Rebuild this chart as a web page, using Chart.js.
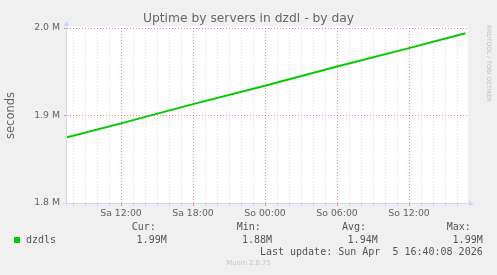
<!DOCTYPE html>
<html>
<head>
<meta charset="utf-8">
<script src="https://cdn.jsdelivr.net/npm/chart.js@4/dist/chart.umd.min.js"></script>
<style>
  html, body { margin:0; padding:0; background:#F0F0F0; }
  #wrap { position:relative; width:497px; height:275px; overflow:hidden; background:#F0F0F0; }
  canvas { position:absolute; left:0; top:0; }
  .t { position:absolute; white-space:pre; color:#666; }
  .sans { font-family:"DejaVu Sans", sans-serif; }
  .mono { font-family:"DejaVu Sans Mono", monospace; font-size:10px; line-height:12px; color:#555; }
</style>
</head>
<body>
<div id="wrap">
  <canvas id="c" width="497" height="275"></canvas>
  <div class="t sans" id="title" style="left:0;width:497px;text-align:center;top:11px;font-size:12.3px;line-height:15px;"></div>
  <div class="t sans" id="rrd" style="left:483px;top:25px;font-size:6px;line-height:8px;color:#bdbdbd;transform-origin:0 0;transform:translate(10px,0) rotate(90deg);"></div>
  <div id="legend"></div>
  <div class="t sans" id="munin" style="left:0;width:497px;text-align:center;top:259px;font-size:6.8px;line-height:9px;color:#c4c4c4;"></div>
</div>
<script>
// ---- data ----
const chartTitle = 'Uptime by servers in dzdl - by day';
const yAxisTitle = 'seconds';
const seriesName = 'dzdls';
const seriesColor = '#00CC00';
// hours since Saturday 00:00
const hours   = [7.5,   12,    18,    24,    30,    36,    40.7];
const uptimeM = [1.875, 1.891, 1.913, 1.934, 1.956, 1.977, 1.994];
const xRange = [7.5, 40.83];
const xMajorHours = [12, 18, 24, 30, 36];
const xMajorLabels = ['Sa 12:00', 'Sa 18:00', 'So 00:00', 'So 06:00', 'So 12:00'];
const yTickValues = [1.8, 1.9, 2.0];
const yTickLabels = ['1.8 M', '1.9 M', '2.0 M'];
const legendHeads = ['Cur:', 'Min:', 'Avg:', 'Max:'];
const legendValues = ['1.99M', '1.88M', '1.94M', '1.99M'];
const lastUpdate = 'Last update: Sun Apr  5 16:40:08 2026';
const watermark = 'Munin 2.0.75';
const sideText = 'RRDTOOL / TOBI OETIKER';

// ---- text overlays ----
document.getElementById('title').textContent = chartTitle;
document.getElementById('rrd').textContent = sideText;
document.getElementById('munin').textContent = watermark;
const leg = document.getElementById('legend');
function addText(txt, style) {
  const d = document.createElement('div');
  d.className = 't mono';
  d.textContent = txt;
  Object.assign(d.style, style);
  leg.appendChild(d);
  return d;
}
const headLeft = [131.7, 236.7, 342, 446.7];
const valRight = [166.7, 272, 377.7, 482.7];
legendHeads.forEach((h, i) => addText(h, {left: headLeft[i] + 'px', top: '221px'}));
legendValues.forEach((v, i) => addText(v, {right: (497 - valRight[i]) + 'px', top: '234px'}));
addText(seriesName, {left: '26px', top: '234px'});
addText(lastUpdate, {right: (497 - 482.7) + 'px', top: '245.5px'});
const sw = document.createElement('div');
Object.assign(sw.style, {position:'absolute', left:'14px', top:'237px', width:'6px', height:'6px', background: seriesColor});
leg.appendChild(sw);

// ---- chart ----
const MAJOR = 'rgba(225,70,70,0.6)';
const MINOR = 'rgba(185,185,185,0.55)';
const AXIS = '#CFD6F8';

const canvasDeco = {
  id: 'deco',
  beforeDraw(chart) {
    const {ctx, chartArea: a} = chart;
    ctx.save();
    ctx.fillStyle = '#FFFFFF';
    ctx.fillRect(a.left - 1, a.top - 2, a.right - a.left + 2, a.bottom - a.top + 2);
    ctx.restore();
  },
  afterDraw(chart) {
    const {ctx, chartArea: a} = chart;
    ctx.save();
    ctx.strokeStyle = AXIS;
    ctx.fillStyle = AXIS;
    ctx.lineWidth = 1;
    ctx.beginPath();
    ctx.moveTo(a.left - 4, a.bottom + 0.5);
    ctx.lineTo(a.right + 3, a.bottom + 0.5);
    ctx.moveTo(a.left - 0.5, a.bottom + 3);
    ctx.lineTo(a.left - 0.5, a.top - 3);
    ctx.stroke();
    ctx.beginPath();
    ctx.moveTo(a.right + 7, a.bottom + 0.5);
    ctx.lineTo(a.right + 2, a.bottom - 2.5);
    ctx.lineTo(a.right + 2, a.bottom + 3.5);
    ctx.closePath();
    ctx.fill();
    ctx.beginPath();
    ctx.moveTo(a.left - 0.5, a.top - 7);
    ctx.lineTo(a.left - 3.5, a.top - 2);
    ctx.lineTo(a.left + 2.5, a.top - 2);
    ctx.closePath();
    ctx.fill();
    ctx.restore();
  }
};

const xTickValues = [];
for (let h = Math.ceil(xRange[0]); h <= Math.floor(xRange[1]); h++) xTickValues.push(h);

new Chart(document.getElementById('c'), {
  type: 'line',
  data: {
    datasets: [{
      label: seriesName,
      data: hours.map((h, i) => ({x: h, y: uptimeM[i]})),
      borderColor: seriesColor,
      backgroundColor: seriesColor,
      borderWidth: 2,
      pointRadius: 0,
      tension: 0,
      fill: false
    }]
  },
  options: {
    responsive: false,
    animation: false,
    devicePixelRatio: 1,
    layout: { padding: { left: 0, top: 28, right: 30, bottom: 0 } },
    plugins: { legend: { display: false }, tooltip: { enabled: false }, title: { display: false } },
    scales: {
      x: {
        type: 'linear',
        min: xRange[0],
        max: xRange[1],
        afterBuildTicks(scale) { scale.ticks = xTickValues.map(v => ({value: v})); },
        afterFit(scale) { scale.height = 72; },
        border: { display: false, dash: [1, 2] },
        grid: {
          color: (c) => (c.tick && xMajorHours.includes(c.tick.value)) ? MAJOR : MINOR,
          lineWidth: 1,
          tickLength: 3,
          drawTicks: true
        },
        ticks: {
          autoSkip: false,
          maxRotation: 0,
          minRotation: 0,
          padding: 2,
          color: '#666',
          font: { family: 'DejaVu Sans', size: 9.33 },
          callback: (v) => { const i = xMajorHours.indexOf(v); return i >= 0 ? xMajorLabels[i] : ''; }
        }
      },
      y: {
        type: 'linear',
        min: yTickValues[0],
        max: yTickValues[yTickValues.length - 1],
        afterBuildTicks(scale) { scale.ticks = yTickValues.map(v => ({value: v})); },
        afterFit(scale) { scale.width = 67; },
        border: { display: false, dash: [1, 2] },
        grid: { color: MAJOR, lineWidth: 1, tickLength: 3, drawTicks: true },
        ticks: {
          padding: 4,
          color: '#666',
          font: { family: 'DejaVu Sans', size: 9.33 },
          callback: (v) => { const i = yTickValues.findIndex(t => Math.abs(t - v) < 1e-9); return i >= 0 ? yTickLabels[i] : ''; }
        },
        title: {
          display: true,
          text: yAxisTitle,
          color: '#666',
          font: { family: 'DejaVu Sans', size: 11.5 },
          padding: { top: 4, bottom: 0 }
        }
      }
    }
  },
  plugins: [canvasDeco]
});
</script>
</body>
</html>
